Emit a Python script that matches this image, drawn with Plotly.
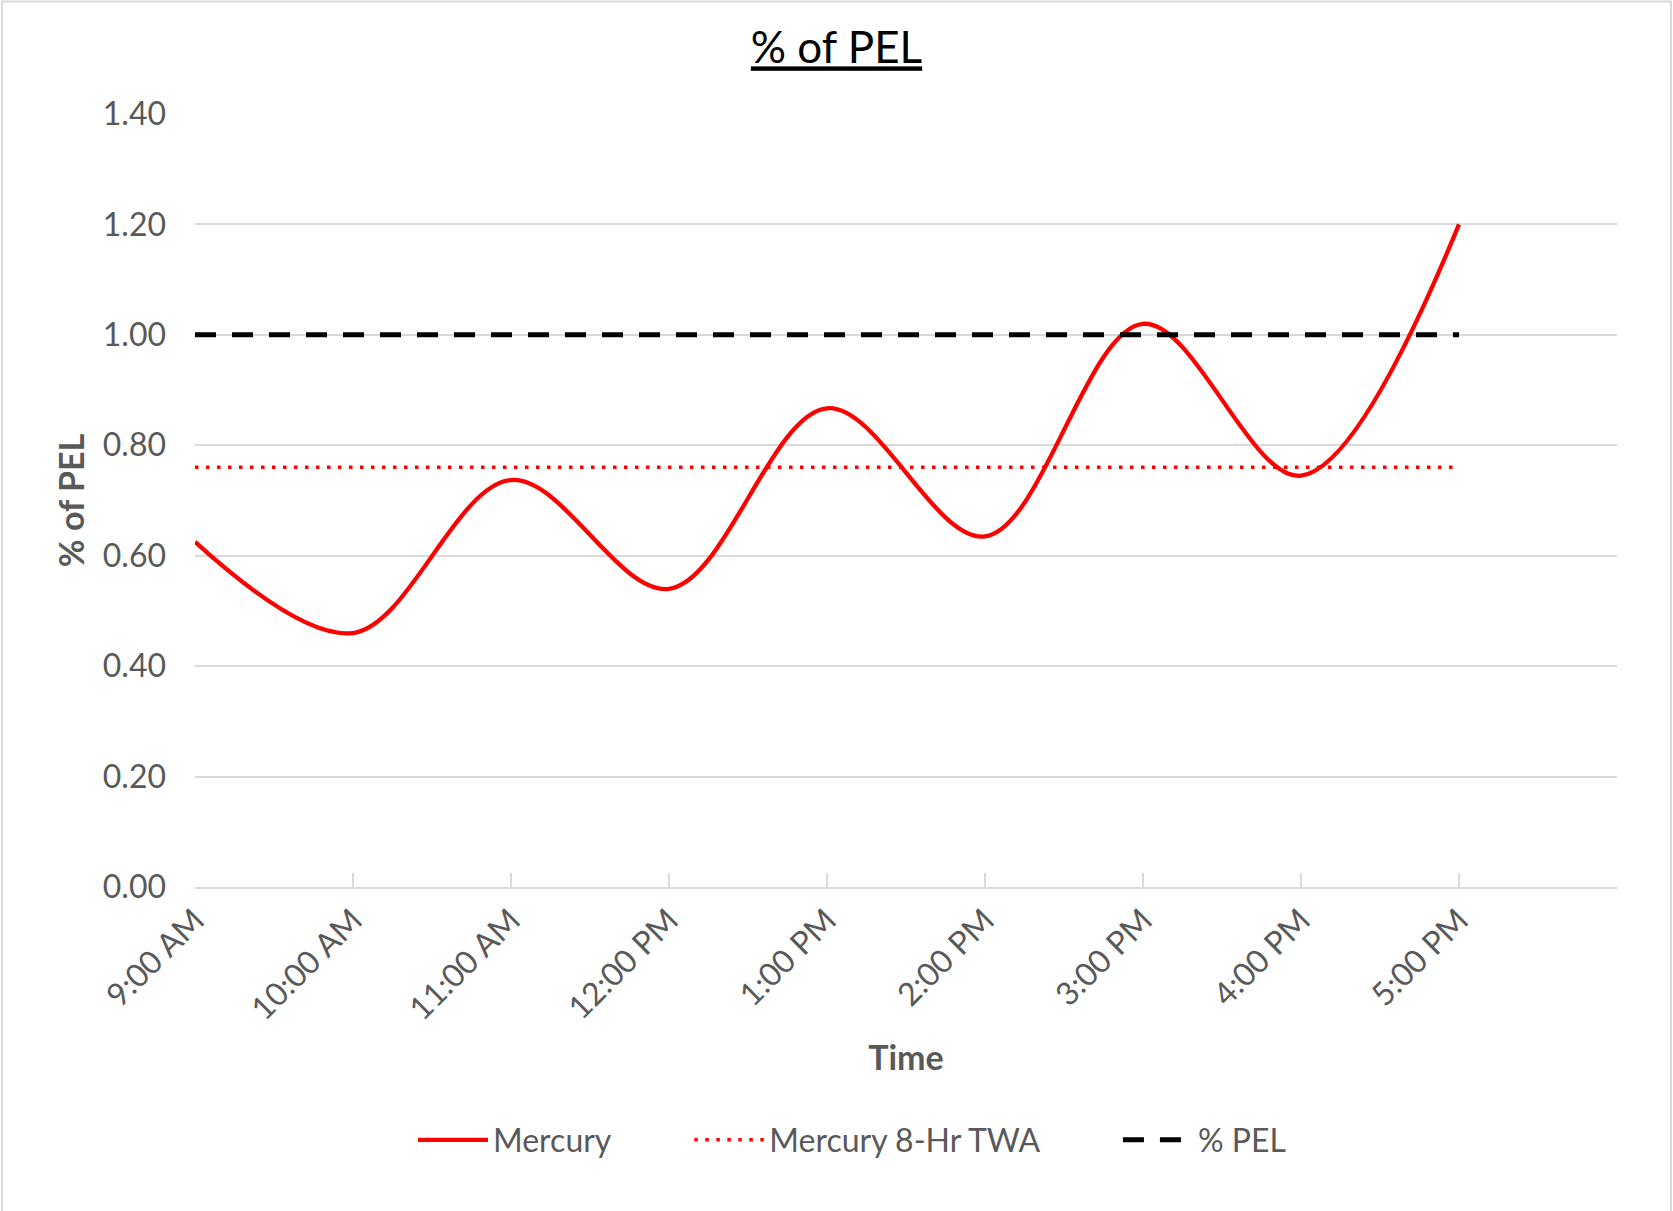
import plotly.graph_objects as go

times = ["9:00 AM", "10:00 AM", "11:00 AM", "12:00 PM", "1:00 PM",
         "2:00 PM", "3:00 PM", "4:00 PM", "5:00 PM"]
mercury = [0.625, 0.46, 0.737, 0.54, 0.867, 0.635, 1.02, 0.745, 1.20]
twa = [0.76, 0.76, 0.76, 0.76, 0.76, 0.76, 0.76, 0.76, 0.76]
pel = [1.00, 1.00, 1.00, 1.00, 1.00, 1.00, 1.00, 1.00, 1.00]
y_ticks = [0.0, 0.2, 0.4, 0.6, 0.8, 1.0, 1.2, 1.4]

xidx = list(range(len(times)))
tickvals = list(range(len(times) + 1))
ticktext = times + [""]

FONT = "Lato"
GRAY = "#595959"
NB = "\u00a0"

fig = go.Figure()
fig.add_trace(go.Scatter(
    x=xidx, y=mercury, mode="lines", name="Mercury" + NB * 9,
    line=dict(color="#ff0000", width=4.3, shape="spline", smoothing=1.0)))
fig.add_trace(go.Scatter(
    x=xidx, y=twa, mode="lines", name="Mercury 8-Hr TWA" + NB * 9,
    line=dict(color="#ff0000", width=3.5, dash="3.5px,7.5px")))
fig.add_trace(go.Scatter(
    x=xidx, y=pel, mode="lines", name="% PEL",
    line=dict(color="#000000", width=5, dash="21px,16px")))

L, R, T, B = 195, 56, 114, 324
W, H = 1673, 1211
pw, ph = W - L - R, H - T - B
bottom_px = T + ph

fig.update_layout(
    width=W, height=H,
    margin=dict(l=L, r=R, t=T, b=B, autoexpand=False),
    paper_bgcolor="white", plot_bgcolor="white",
    font=dict(family=FONT, color=GRAY, size=32),
    title=dict(text="<u>% of PEL</u>", font=dict(family=FONT, size=44, color="#000000"),
               x=0.5, xref="container", xanchor="center",
               y=1 - 48 / H, yref="container", yanchor="middle"),
    xaxis=dict(range=[0, len(times)], tickvals=tickvals, ticktext=ticktext,
               tickangle=-45, showgrid=False, zeroline=False,
               showline=True, linecolor="#d9d9d9", linewidth=1.5,
               ticks="inside", ticklen=14, tickcolor="#d9d9d9", tickwidth=1.5,
               tickfont=dict(family=FONT, size=32, color=GRAY),
               title=dict(text="<b>Time</b>", font=dict(family=FONT, size=34, color=GRAY),
                          standoff=20)),
    yaxis=dict(range=[0, 1.4], tickvals=y_ticks, tickformat=".2f",
               showgrid=True, gridcolor="#d9d9d9", gridwidth=1.5,
               zeroline=False, showline=False, ticks="",
               ticklabelstandoff=28,
               tickfont=dict(family=FONT, size=32, color=GRAY),
               title=dict(text="<b>% of PEL</b>", font=dict(family=FONT, size=34, color=GRAY),
                          standoff=7)),
    legend=dict(orientation="h", xref="container", x=852 / W, xanchor="center",
                yref="container", y=1 - 1140 / H, yanchor="middle",
                font=dict(family=FONT, size=32, color=GRAY),
                itemwidth=70, bgcolor="rgba(0,0,0,0)"),
    showlegend=True,
)

fig.add_shape(type="rect", xref="paper", yref="paper",
              x0=(2 - L) / pw, x1=(W - 2 - L) / pw,
              y0=(bottom_px - (H + 4)) / ph, y1=(bottom_px - 1.5) / ph,
              line=dict(color="#d9d9d9", width=2), fillcolor="rgba(0,0,0,0)", layer="below")

fig.write_html("out.html", config={"displayModeBar": False},
               post_script="document.body.style.margin='0';document.body.style.overflow='hidden';")
